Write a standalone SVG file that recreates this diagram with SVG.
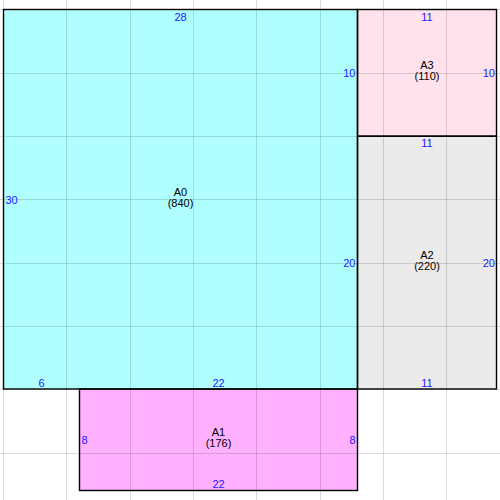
<svg xmlns="http://www.w3.org/2000/svg" width="500" height="500" viewBox="0 0 500 500">
<style>
.box{stroke:#000;stroke-width:1.4}
.grid line{stroke:#000;stroke-opacity:0.14;stroke-width:1}
text{font-family:"Liberation Sans",Arial,sans-serif;font-size:11px}
.n{fill:#000;text-anchor:middle}
.d{fill:#2020ff}
.m{text-anchor:middle}
.r{text-anchor:end}
</style>
<rect x="0" y="0" width="500" height="500" fill="#fff"/>
<g id="A0-fill"><rect x="3.5" y="9.5" width="354" height="379.5" fill="#b0ffff"/></g>
<g id="A3-fill"><rect x="357.5" y="9.5" width="139" height="126.7" fill="#ffe2ec"/></g>
<g id="A2-fill"><rect x="357.5" y="136.2" width="139" height="252.8" fill="#ebebeb"/></g>
<g id="A1-fill"><rect x="79.5" y="389" width="278" height="101.5" fill="#ffb0ff"/></g>
<g class="grid">
<line x1="3.5" y1="0" x2="3.5" y2="500"/>
<line x1="66.5" y1="0" x2="66.5" y2="500"/>
<line x1="130.5" y1="0" x2="130.5" y2="500"/>
<line x1="193.5" y1="0" x2="193.5" y2="500"/>
<line x1="256.5" y1="0" x2="256.5" y2="500"/>
<line x1="320.5" y1="0" x2="320.5" y2="500"/>
<line x1="383.5" y1="0" x2="383.5" y2="500"/>
<line x1="446.5" y1="0" x2="446.5" y2="500"/>
<line x1="0" y1="9.5" x2="500" y2="9.5"/>
<line x1="0" y1="73.5" x2="500" y2="73.5"/>
<line x1="0" y1="136.5" x2="500" y2="136.5"/>
<line x1="0" y1="199.5" x2="500" y2="199.5"/>
<line x1="0" y1="263.5" x2="500" y2="263.5"/>
<line x1="0" y1="326.5" x2="500" y2="326.5"/>
<line x1="0" y1="389.5" x2="500" y2="389.5"/>
<line x1="0" y1="453.5" x2="500" y2="453.5"/>
</g>
<g id="A0">
<rect class="box" x="3.5" y="9.5" width="354" height="379.5" fill="none"/>
<text class="n" x="180.5" y="195.8">A0</text>
<text class="n" x="180.5" y="206.8">(840)</text>
<text class="d m" x="180.5" y="20.5">28</text>
<text class="d" x="5.5" y="203.5">30</text>
<text class="d r" x="355.5" y="76.8">10</text>
<text class="d r" x="355.5" y="266.7">20</text>
<text class="d m" x="41.5" y="386.8">6</text>
<text class="d m" x="218.5" y="386.8">22</text>
</g>
<g id="A3">
<rect class="box" x="357.5" y="9.5" width="139" height="126.7" fill="none"/>
<text class="n" x="427" y="69">A3</text>
<text class="n" x="427" y="80">(110)</text>
<text class="d m" x="427" y="20.5">11</text>
<text class="d r" x="495" y="76.8">10</text>
</g>
<g id="A2">
<rect class="box" x="357.5" y="136.2" width="139" height="252.8" fill="none"/>
<text class="n" x="427" y="258.8">A2</text>
<text class="n" x="427" y="270.2">(220)</text>
<text class="d m" x="427" y="146.8">11</text>
<text class="d r" x="495" y="266.7">20</text>
<text class="d m" x="427" y="386.8">11</text>
</g>
<g id="A1">
<rect class="box" x="79.5" y="389" width="278" height="101.5" fill="none"/>
<text class="n" x="218.5" y="436">A1</text>
<text class="n" x="218.5" y="447.2">(176)</text>
<text class="d" x="81.5" y="443.7">8</text>
<text class="d r" x="355.5" y="443.7">8</text>
<text class="d m" x="218.5" y="488.3">22</text>
</g>
</svg>
